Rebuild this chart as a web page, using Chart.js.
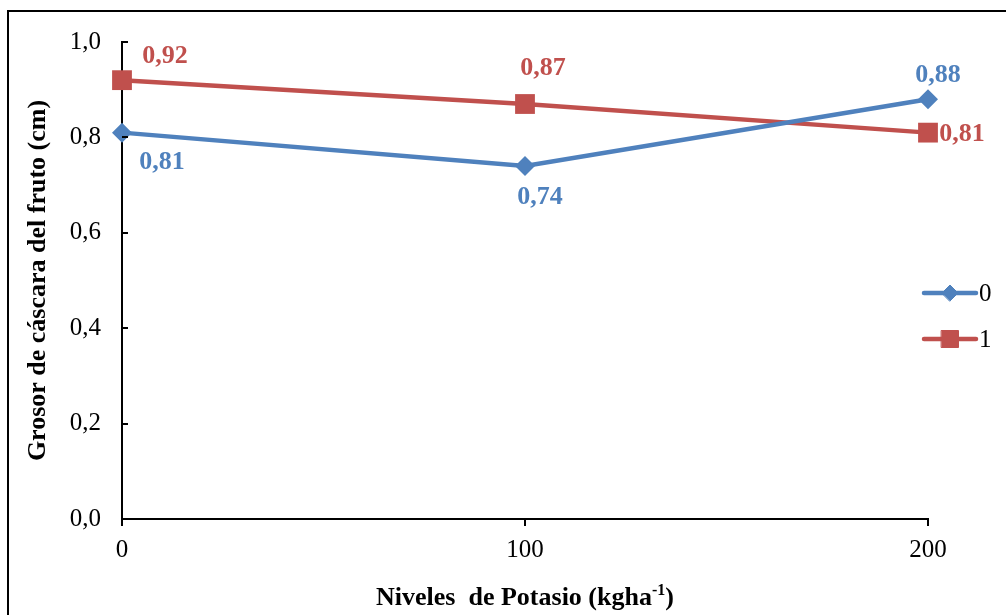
<!DOCTYPE html>
<html>
<head>
<meta charset="utf-8">
<script src="https://cdn.jsdelivr.net/npm/chart.js@4/dist/chart.umd.min.js"></script>
<style>
  html, body { margin: 0; padding: 0; background: #fff; overflow: hidden; }
  #wrap { position: relative; width: 1006px; height: 615px; }
  canvas { display: block; }
</style>
</head>
<body>
<div id="wrap"><canvas id="c" width="1006" height="615"></canvas></div>
<script>
// ---- data ----
const xValues = [0, 100, 200];
const seriesNames = ["0", "1"];
const series0 = [0.81, 0.74, 0.88];
const series1 = [0.92, 0.87, 0.81];
const yTicks = [0, 0.2, 0.4, 0.6, 0.8, 1.0];
const xTitleMain = "Niveles  de Potasio (kgha";
const xTitleSup = "-1";
const xTitleEnd = ")";
const yTitle = "Grosor de cáscara del fruto (cm)";

// ---- style ----
const BLUE = "#4F81BD";
const RED = "#C0504D";
const FONT = "'Liberation Serif', 'Times New Roman', serif";
// label offsets (px) relative to each point
const labelOffsets0 = [[40, 30], [15, 31], [10, -24]];
const labelOffsets1 = [[43, -24], [18, -36], [34, 2]];

const fmt = v => v.toFixed(2).replace('.', ',');

const chartArea = { left: 122, top: 42, right: 928, bottom: 519 };

const framePlugin = {
  id: 'frame',
  beforeDraw(chart) {
    const ctx = chart.ctx;
    ctx.save();
    ctx.fillStyle = '#fff';
    ctx.fillRect(0, 0, chart.width, chart.height);
    ctx.strokeStyle = '#000';
    ctx.lineWidth = 2;
    ctx.strokeRect(8, 11, 1100, 1000);
    ctx.restore();
  }
};

const extrasPlugin = {
  id: 'extras',
  afterDraw(chart) {
    const ctx = chart.ctx;
    const ys = chart.scales.y;
    ctx.save();
    // inward y ticks
    ctx.strokeStyle = '#000';
    ctx.lineWidth = 2;
    yTicks.forEach(v => {
      const py = Math.round(ys.getPixelForValue(v));
      ctx.beginPath();
      ctx.moveTo(ys.right, py);
      ctx.lineTo(ys.right + 6, py);
      ctx.stroke();
    });
    // y title
    ctx.fillStyle = '#000';
    ctx.font = "bold 26px " + FONT;
    ctx.textAlign = 'center';
    ctx.textBaseline = 'alphabetic';
    ctx.translate(45, (chart.chartArea.top + chart.chartArea.bottom) / 2);
    ctx.rotate(-Math.PI / 2);
    ctx.fillText(yTitle, 0, 0);
    ctx.restore();

    // x title with superscript
    ctx.save();
    ctx.fillStyle = '#000';
    ctx.textBaseline = 'alphabetic';
    ctx.textAlign = 'left';
    const mainFont = "bold 26px " + FONT;
    const supFont = "bold 16px " + FONT;
    ctx.font = mainFont;
    const w1 = ctx.measureText(xTitleMain).width;
    const w3 = ctx.measureText(xTitleEnd).width;
    ctx.font = supFont;
    const w2 = ctx.measureText(xTitleSup).width;
    const total = w1 + w2 + w3;
    const cx = (chart.chartArea.left + chart.chartArea.right) / 2;
    let x = cx - total / 2;
    const base = 605;
    ctx.font = mainFont;
    ctx.fillText(xTitleMain, x, base);
    x += w1;
    ctx.font = supFont;
    ctx.fillText(xTitleSup, x, base - 10);
    x += w2;
    ctx.font = mainFont;
    ctx.fillText(xTitleEnd, x, base);
    ctx.restore();

    // legend
    ctx.save();
    chart.data.datasets.forEach((ds, i) => {
      const ly = 293 + i * 46;
      ctx.strokeStyle = ds.borderColor;
      ctx.lineWidth = 4.5;
      ctx.lineCap = 'round';
      ctx.beginPath();
      ctx.moveTo(924, ly);
      ctx.lineTo(976, ly);
      ctx.stroke();
      ctx.fillStyle = ds.borderColor;
      ctx.strokeStyle = ds.borderColor;
      ctx.lineWidth = 1;
      Chart.helpers.drawPoint(ctx, {
        pointStyle: ds.pointStyle,
        radius: i === 0 ? 8 : 12,
        rotation: 0,
        borderWidth: 1
      }, 950, ly);
      ctx.fillStyle = '#000';
      ctx.font = "25px " + FONT;
      ctx.textAlign = 'left';
      ctx.textBaseline = 'middle';
      ctx.fillText(ds.label, 979, ly + 1);
    });
    ctx.restore();
  },
  afterDatasetsDraw(chart) {
    const ctx = chart.ctx;
    ctx.save();
    ctx.font = "bold 26px " + FONT;
    ctx.textAlign = 'center';
    ctx.textBaseline = 'middle';
    chart.data.datasets.forEach((ds, di) => {
      const meta = chart.getDatasetMeta(di);
      const offs = ds.labelOffsets;
      ctx.fillStyle = ds.borderColor;
      meta.data.forEach((pt, i) => {
        const v = ds.data[i].y;
        ctx.fillText(fmt(v), pt.x + offs[i][0], pt.y + offs[i][1]);
      });
    });
    ctx.restore();
  }
};

const toPoints = arr => arr.map((v, i) => ({ x: xValues[i], y: v }));

new Chart(document.getElementById('c'), {
  type: 'line',
  data: {
    datasets: [
      {
        label: seriesNames[0],
        data: toPoints(series0),
        borderColor: BLUE,
        backgroundColor: BLUE,
        borderWidth: 4.5,
        pointStyle: 'rectRot',
        pointRadius: 10,
        pointHoverRadius: 10,
        pointBorderWidth: 0,
        tension: 0,
        clip: false,
        labelOffsets: labelOffsets0
      },
      {
        label: seriesNames[1],
        data: toPoints(series1),
        borderColor: RED,
        backgroundColor: RED,
        borderWidth: 4.5,
        pointStyle: 'rect',
        pointRadius: 14,
        pointHoverRadius: 14,
        pointBorderWidth: 0,
        tension: 0,
        clip: false,
        labelOffsets: labelOffsets1
      }
    ]
  },
  options: {
    responsive: false,
    animation: false,
    events: [],
    layout: { padding: { left: 0, top: chartArea.top, right: 1006 - chartArea.right, bottom: 0 } },
    plugins: { legend: { display: false }, tooltip: { enabled: false } },
    scales: {
      x: {
        type: 'linear',
        min: xValues[0],
        max: xValues[xValues.length - 1],
        afterBuildTicks(scale) { scale.ticks = xValues.map(v => ({ value: v })); },
        afterFit(scale) { scale.height = 615 - chartArea.bottom; },
        grid: { drawOnChartArea: false, drawTicks: true, tickLength: 7, color: '#000', lineWidth: 2 },
        border: { color: '#000', width: 2 },
        ticks: { color: '#000', font: { family: FONT, size: 25 }, padding: 9, maxRotation: 0 }
      },
      y: {
        min: 0,
        max: 1,
        afterBuildTicks(scale) { scale.ticks = yTicks.map(v => ({ value: v })); },
        afterFit(scale) { scale.width = chartArea.left; },
        grid: { drawOnChartArea: false, drawTicks: false },
        border: { color: '#000', width: 2 },
        ticks: {
          color: '#000',
          font: { family: FONT, size: 25 },
          padding: 21,
          callback: v => Number(v).toFixed(1).replace('.', ',')
        }
      }
    }
  },
  plugins: [framePlugin, extrasPlugin]
});
</script>
</body>
</html>
